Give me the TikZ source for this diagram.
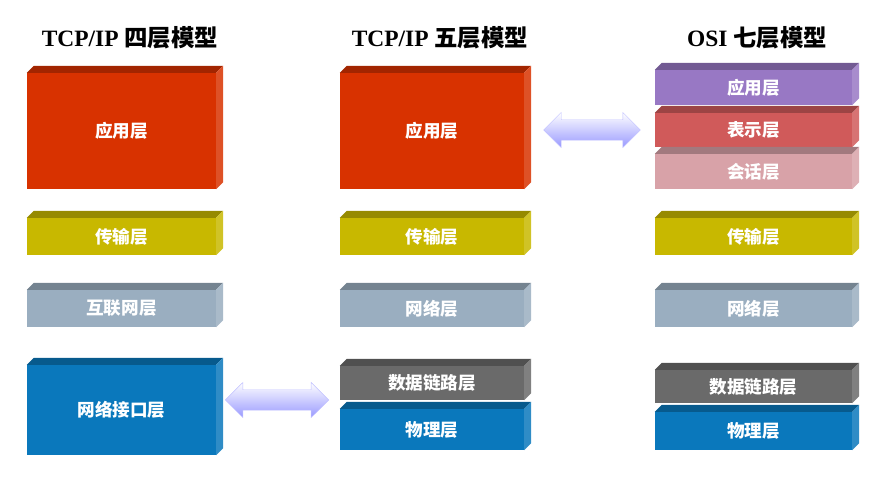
\documentclass[tikz,border=0pt]{standalone}
\usepackage{fontspec}
\setmainfont{Liberation Serif}
\newfontfamily\cjk{Noto Sans CJK SC}
\usetikzlibrary{fit,shapes.arrows}
\definecolor{appred}{HTML}{D83200}
\definecolor{transyel}{HTML}{C8B800}
\definecolor{netgrey}{HTML}{9AAEC0}
\definecolor{linkblue}{HTML}{0A78BC}
\definecolor{linkgrey}{HTML}{6A6A6A}
\definecolor{prespurple}{HTML}{9878C4}
\definecolor{presred}{HTML}{D05A5A}
\definecolor{sesspink}{HTML}{D8A2A8}

\begin{document}
\begin{tikzpicture}
  [x=0.03cm, y=-0.03cm,
   layer/.style={inner sep=0pt},
   layer text/.style={text=white, font=\cjk\bfseries\fontsize{15}{15}\selectfont},
   title/.style={font=\bfseries\fontsize{20}{20}\selectfont},
   swap/.style={double arrow, double arrow head extend=0.22cm, draw=blue!25,
     top color=white, bottom color=blue!40, inner xsep=0pt, inner ysep=0.3cm,
     minimum height=3cm}]
  \useasboundingbox (0,0) rectangle (883,487);
  % titles
  \node (t4) [title] at (130,38) {TCP/IP {\cjk\bfseries 四层模型}};
  \node (t5) [title] at (440,38) {TCP/IP {\cjk\bfseries 五层模型}};
  \node (t7) [title] at (757,38) {OSI {\cjk\bfseries 七层模型}};
  % four layers
  \node (app4) [layer, fill=appred, fit={(27,73) (216,189)}, label={[layer text]center:应用层}] {};
  \node (tr4) [layer, fill=transyel, fit={(27,218) (216,255)}, label={[layer text]center:传输层}] {};
  \node (net4) [layer, fill=netgrey, fit={(27,290) (216,327)}, label={[layer text]center:互联网层}] {};
  \node (if4) [layer, fill=linkblue, fit={(27,365) (216,455)}, label={[layer text]center:网络接口层}] {};
  % five layers
  \node (app5) [layer, fill=appred, fit={(340,73) (524,189)}, label={[layer text]center:应用层}] {};
  \node (tr5) [layer, fill=transyel, fit={(340,218) (524,255)}, label={[layer text]center:传输层}] {};
  \node (net5) [layer, fill=netgrey, fit={(340,290) (524,327)}, label={[layer text]center:网络层}] {};
  \node (dl5) [layer, fill=linkgrey, fit={(340,366) (524,400)}, label={[layer text]center:数据链路层}] {};
  \node (ph5) [layer, fill=linkblue, fit={(340,409) (524,450)}, label={[layer text]center:物理层}] {};
  % seven layers
  \node (app7) [layer, fill=prespurple, fit={(655,70) (852,105)}, label={[layer text]center:应用层}] {};
  \node (pr7) [layer, fill=presred, fit={(655,113) (852,147)}, label={[layer text]center:表示层}] {};
  \node (se7) [layer, fill=sesspink, fit={(655,154) (852,189)}, label={[layer text]center:会话层}] {};
  \node (tr7) [layer, fill=transyel, fit={(655,218) (852,255)}, label={[layer text]center:传输层}] {};
  \node (net7) [layer, fill=netgrey, fit={(655,290) (852,327)}, label={[layer text]center:网络层}] {};
  \node (dl7) [layer, fill=linkgrey, fit={(655,370) (852,403)}, label={[layer text]center:数据链路层}] {};
  \node (ph7) [layer, fill=linkblue, fit={(655,412) (852,450)}, label={[layer text]center:物理层}] {};
  % 3d faces
  \foreach \n/\c in {app4/appred, tr4/transyel, net4/netgrey, if4/linkblue,
      app5/appred, tr5/transyel, net5/netgrey, dl5/linkgrey, ph5/linkblue,
      app7/prespurple, pr7/presred, se7/sesspink, tr7/transyel,
      net7/netgrey, dl7/linkgrey, ph7/linkblue} {
    \fill [\c!75!black] (\n.north west) -- ++(7,-7) -- ([shift={(7,-7)}]\n.north east)
      -- (\n.north east) -- cycle;
    \fill [\c!85!white] (\n.north east) -- ++(7,-7) -- ([shift={(7,-7)}]\n.south east)
      -- (\n.south east) -- cycle;
  }
  % arrows
  \node (sw1) [swap, minimum height=2.9cm] at (592,130) {};
  \node (sw2) [swap, minimum height=3.1cm] at (277,400) {};
\end{tikzpicture}
\end{document}
